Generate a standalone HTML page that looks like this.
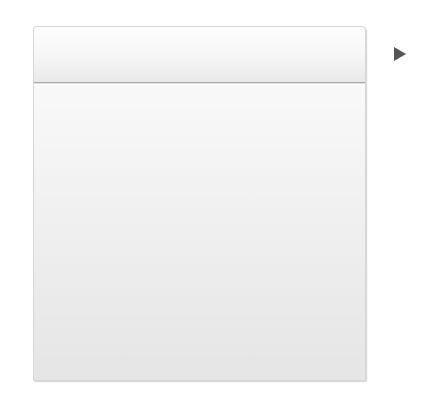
<!DOCTYPE html>
<html><head><meta charset="utf-8"><style>
html,body{margin:0;padding:0;width:432px;height:411px;background:#fff;overflow:hidden;font-family:"Liberation Sans",sans-serif}
#panel{position:absolute;left:33px;top:26px;width:331px;height:353px;border:1px solid #d6d6d6;border-radius:4px 4px 2px 2px;box-shadow:1px 1px 1px #d0d3d6;overflow:hidden;background:linear-gradient(#fafafa,#e6e6e6)}
#header{position:absolute;left:0;top:0;width:100%;height:55px;background:linear-gradient(#fdfdfd 0%,#f7f7f7 50%,#e9e9e9 100%);border-bottom:1px solid #a9a9a9;box-shadow:0 1px 0 #e2e2e2}
#body{position:absolute;left:0;top:57px;right:0;bottom:0;background:linear-gradient(#f9f9f9,#e5e5e5);border-top:1px solid #fff}
#arrow{position:absolute;left:394px;top:47px;width:0;height:0;border-top:7px solid transparent;border-bottom:7px solid transparent;border-left:12px solid #555}
</style></head><body>
<div id="panel">
 <div id="header"></div>
 <div id="body"></div>
</div>
<div id="arrow"></div>
</body></html>
